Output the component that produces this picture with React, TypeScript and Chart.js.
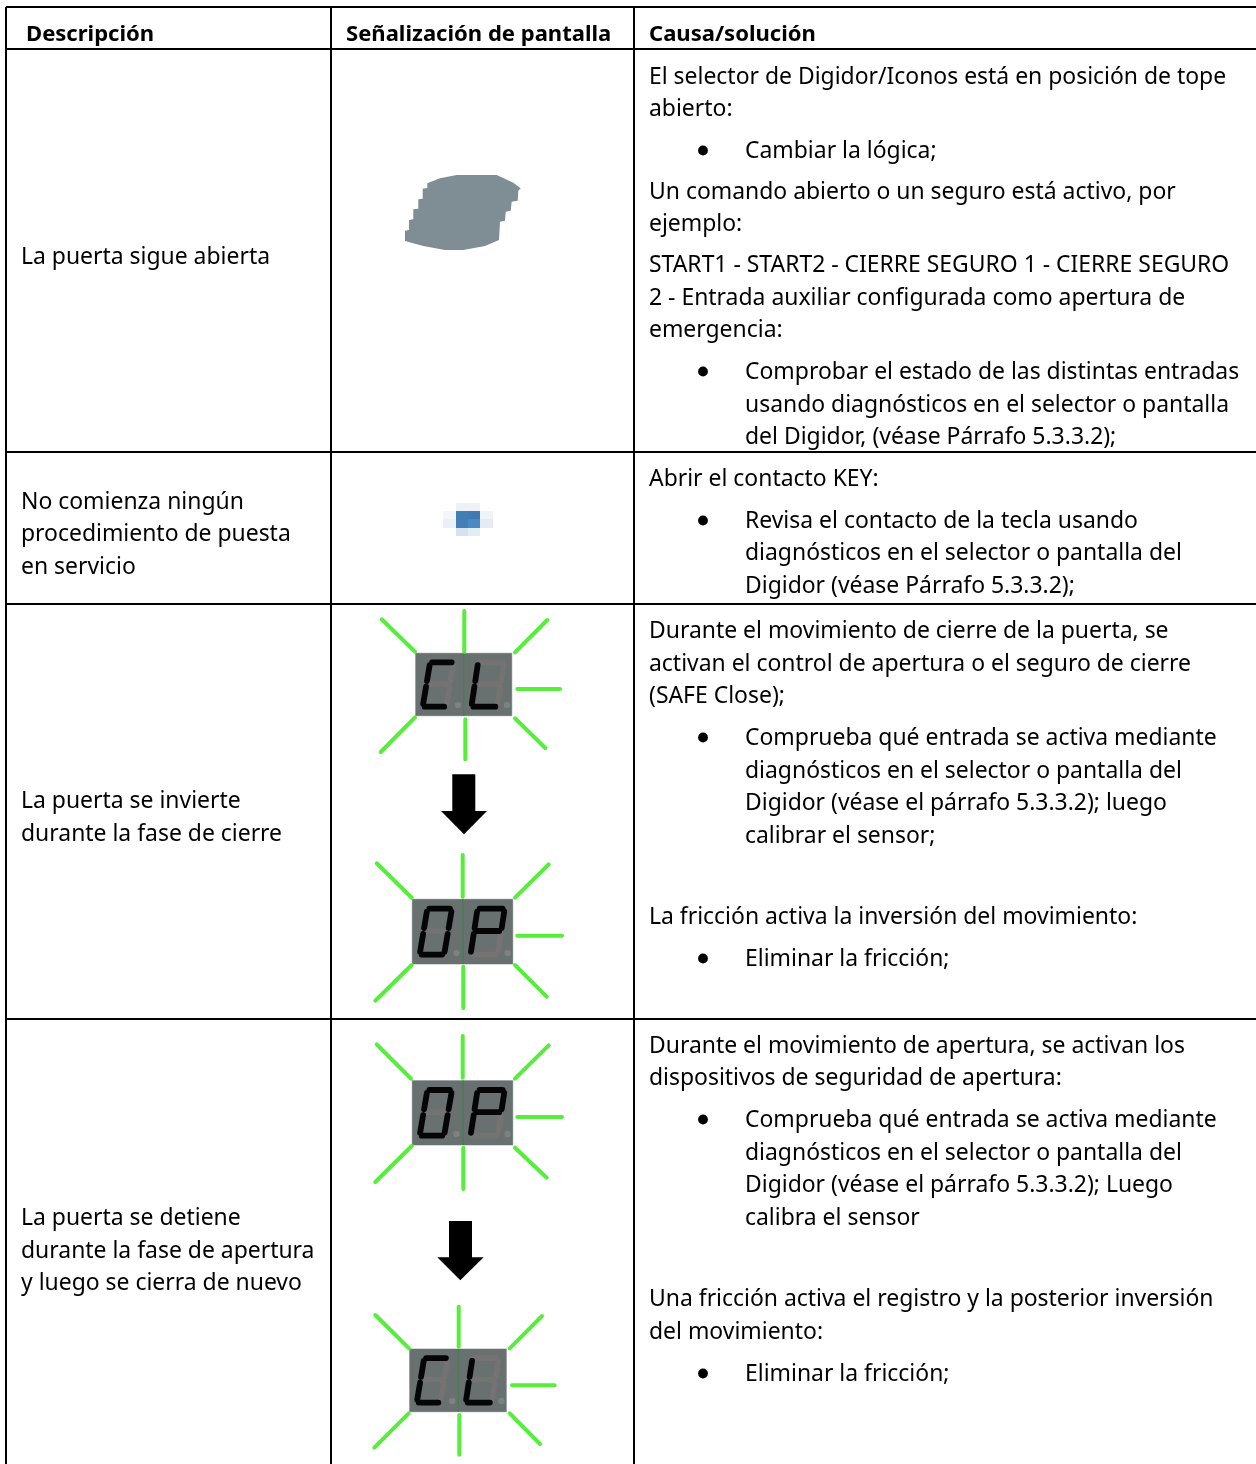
import React, { useEffect, useRef } from "react";
import { Chart, registerables } from "chart.js";

Chart.register(...registerables);

const W = 1256;
const H = 1464;
const FONT = '"Noto Sans"';
const FONT_SIZE = 22.93;
const HEADER_SIZE = 22.05;

type Pt = { x: number; y: number } | { x: number; y: null };

const headers: [number, number, string][] = [
  [26, 41, "Descripción"],
  [346, 41, "Señalización de pantalla"],
  [649, 41, "Causa/solución"],
];

const descriptionLines: [number, string][] = [
  [264, "La puerta sigue abierta"],
  [509, "No comienza ningún"],
  [541, "procedimiento de puesta"],
  [574, "en servicio"],
  [808, "La puerta se invierte"],
  [841, "durante la fase de cierre"],
  [1225, "La puerta se detiene"],
  [1258, "durante la fase de apertura"],
  [1290, "y luego se cierra de nuevo"],
];

const causeLines: [number, string][] = [
  [84, "El selector de Digidor/Iconos está en posición de tope"],
  [116, "abierto:"],
  [199, "Un comando abierto o un seguro está activo, por"],
  [231, "ejemplo:"],
  [272, "START1 - START2 - CIERRE SEGURO 1 - CIERRE SEGURO"],
  [305, "2 - Entrada auxiliar configurada como apertura de"],
  [337, "emergencia:"],
  [486, "Abrir el contacto KEY:"],
  [638, "Durante el movimiento de cierre de la puerta, se"],
  [671, "activan el control de apertura o el seguro de cierre"],
  [703, "(SAFE Close);"],
  [924, "La fricción activa la inversión del movimiento:"],
  [1053, "Durante el movimiento de apertura, se activan los"],
  [1085, "dispositivos de seguridad de apertura:"],
  [1306, "Una fricción activa el registro y la posterior inversión"],
  [1339, "del movimiento:"],
];

const bulletLines: [number, string][] = [
  [158, "Cambiar la lógica;"],
  [379, "Comprobar el estado de las distintas entradas"],
  [412, "usando diagnósticos en el selector o pantalla"],
  [444, "del Digidor, (véase Párrafo 5.3.3.2);"],
  [528, "Revisa el contacto de la tecla usando"],
  [560, "diagnósticos en el selector o pantalla del"],
  [593, "Digidor (véase Párrafo 5.3.3.2);"],
  [745, "Comprueba qué entrada se activa mediante"],
  [778, "diagnósticos en el selector o pantalla del"],
  [810, "Digidor (véase el párrafo 5.3.3.2); luego"],
  [843, "calibrar el sensor;"],
  [966, "Eliminar la fricción;"],
  [1127, "Comprueba qué entrada se activa mediante"],
  [1160, "diagnósticos en el selector o pantalla del"],
  [1192, "Digidor (véase el párrafo 5.3.3.2); Luego"],
  [1225, "calibra el sensor"],
  [1381, "Eliminar la fricción;"],
];

const bulletCenters = [150.5, 371.5, 520.5, 737.5, 958.5, 1119.5, 1373.5];

const tableLines: number[][] = [
  [6, 7, 1256, 7],
  [6, 49, 1256, 49],
  [6, 452, 1256, 452],
  [6, 604, 1256, 604],
  [6, 1019, 1256, 1019],
  [6, 7, 6, 1464],
  [331, 7, 331, 1464],
  [634, 7, 634, 1464],
];

const blob: number[][] = [
  [456.7, 175], [496.7, 175], [513.3, 182.7], [520.7, 188.3], [518.3, 190.7], [517.7, 200.7],
  [511.7, 201.7], [510.7, 210.7], [505.7, 211.7], [505, 220.7], [500, 221.7], [499, 240],
  [485, 246], [463.3, 250], [445, 250], [423.3, 246], [405, 241], [405, 230.7], [409, 230],
  [409, 220], [413.3, 219.3], [413.3, 209.3], [418.3, 208.7], [418.3, 199.3], [422.7, 198.7],
  [422.7, 188.7], [427.3, 188], [427.3, 183.3], [440, 178.3],
];

// x0, y0, x1, y1, colour
const mosaic: [number, number, number, number, string][] = [
  [456, 503, 468, 511, "#eef1f6"],
  [468, 503, 480, 511, "#eef1f6"],
  [443, 511, 456, 519, "#f3f5f9"],
  [456, 511, 468, 519, "#3f7fb5"],
  [468, 511, 480, 519, "#3f7ab0"],
  [480, 511, 493, 519, "#f0f3f8"],
  [443, 519, 456, 528, "#e9f0f7"],
  [456, 519, 468, 528, "#437fb6"],
  [468, 519, 480, 528, "#4a8ac2"],
  [480, 519, 493, 528, "#e4ebf4"],
  [456, 528, 468, 536, "#d6e3ee"],
  [468, 528, 480, 536, "#e2edf4"],
];

type Display = {
  box: number[];
  div: number;
  text: string;
  rays: number[][];
};

const displays: Display[] = [
  {
    box: [415.7, 653.3, 511.7, 715.7],
    div: 463.7,
    text: "CL",
    rays: [
      [464.3, 611, 464.3, 651.7], [381.7, 619.3, 415, 651.7], [547.3, 620, 515, 652.3],
      [517.3, 689, 560, 689], [515, 718.3, 545.3, 748], [465.3, 719.3, 465.3, 759.3],
      [415, 717.3, 380.7, 752],
    ],
  },
  {
    box: [412.3, 899.3, 512.7, 964],
    div: 463,
    text: "OP",
    rays: [
      [462.7, 855, 462.7, 896.7], [376.7, 863.3, 411.7, 897.7], [548.7, 864.3, 515, 897.7],
      [517.3, 935.7, 562, 935.7], [515, 965, 546.7, 996.7], [463.3, 966.7, 463.3, 1008],
      [411.7, 965, 375.3, 1000.7],
    ],
  },
  {
    box: [412.3, 1080.7, 512.7, 1145],
    div: 463,
    text: "OP",
    rays: [
      [462.7, 1036, 462.7, 1077.7], [376.7, 1044.3, 411, 1078.7], [548.7, 1045.3, 515, 1078.7],
      [517.3, 1117, 562, 1117], [515, 1147.7, 546.7, 1177.7], [463.3, 1147.7, 463.3, 1189],
      [411.7, 1146, 375.3, 1182],
    ],
  },
  {
    box: [409.7, 1349, 506.3, 1411.7],
    div: 458.3,
    text: "CL",
    rays: [
      [458.7, 1306.7, 458.7, 1346.7], [375.3, 1315, 409, 1348.3], [542, 1316, 509.7, 1348.3],
      [512, 1385.3, 554.7, 1385.3], [509.7, 1413.3, 540, 1444], [459.3, 1415, 459.3, 1454.7],
      [408.7, 1413.3, 374.3, 1447.7],
    ],
  },
];

// stem left, stem right, stem top, neck, head left, head right, tip x, tip y
const arrows: number[][] = [
  [452.3, 475.3, 774.3, 811, 441, 487, 464, 834.3],
  [449, 472, 1221, 1257.3, 437.3, 483.7, 460.3, 1280.3],
];

const litSegments: Record<string, string> = { C: "afed", L: "fed", O: "abcdef", P: "abfge" };
const allSegments = "abcdefg";

const digitFrames = [
  { topL: 0.15, topR: 0.395, botL: 0.073, botR: 0.317 },
  { topL: 0.65, topR: 0.92, botL: 0.58, botR: 0.85 },
];
const ROW_TOP = 0.145;
const ROW_MID = 0.49;
const ROW_BOT = 0.855;

function segmentLine(seg: string, frame: (typeof digitFrames)[number]): number[][] {
  const at = (r: number, side: "L" | "R", inset: number) => {
    const t = (r - ROW_TOP) / (ROW_BOT - ROW_TOP);
    const l = frame.topL + (frame.botL - frame.topL) * t;
    const rr = frame.topR + (frame.botR - frame.topR) * t;
    return [side === "L" ? l + inset : rr - inset, r];
  };
  const i = 0.02;
  const g = 0.045;
  switch (seg) {
    case "a":
      return [at(ROW_TOP, "L", i), at(ROW_TOP, "R", i)];
    case "b":
      return [at(ROW_TOP + g, "R", 0), at(ROW_MID - g, "R", 0)];
    case "c":
      return [at(ROW_MID + g, "R", 0), at(ROW_BOT - g, "R", 0)];
    case "d":
      return [at(ROW_BOT, "L", i), at(ROW_BOT, "R", i)];
    case "e":
      return [at(ROW_MID + g, "L", 0), at(ROW_BOT - g, "L", 0)];
    case "f":
      return [at(ROW_TOP + g, "L", 0), at(ROW_MID - g, "L", 0)];
    default:
      return [at(ROW_MID, "L", i), at(ROW_MID, "R", i)];
  }
}

function segs(lines: number[][]): Pt[] {
  const out: Pt[] = [];
  lines.forEach((l) => {
    out.push({ x: l[0], y: l[1] }, { x: l[2], y: l[3] }, { x: l[2], y: null });
  });
  return out;
}

function poly(points: number[][], color: string) {
  return {
    data: points.map((p) => ({ x: p[0], y: p[1] })),
    showLine: true,
    fill: "shape",
    backgroundColor: color,
    borderColor: color,
    borderWidth: 0,
    pointRadius: 0,
    tension: 0,
  };
}

function stroke(lines: number[][], color: string, width: number, cap: CanvasLineCap = "round") {
  return {
    data: segs(lines),
    showLine: true,
    fill: false,
    borderColor: color,
    borderWidth: width,
    borderCapStyle: cap,
    pointRadius: 0,
    spanGaps: false,
    tension: 0,
  };
}

function buildDatasets() {
  const list: any[] = [];
  list.push(poly(blob, "#7f8e95"));
  mosaic.forEach(([a, b, c, d, col]) =>
    list.push(poly([[a, b], [c, b], [c, d], [a, d]], col))
  );
  displays.forEach((dsp) => {
    const [l, t, r, b] = dsp.box;
    list.push(poly([[l - 0.6, t - 0.6], [r + 0.6, t - 0.6], [r + 0.6, b + 0.6], [l - 0.6, b + 0.6]], "#aeb6b2"));
    list.push(poly([[l, t], [r, t], [r, b], [l, b]], "#687170"));
    list.push(stroke([[dsp.div, t, dsp.div, b]], "#4f7a55", 1, "butt"));
    list.push(stroke(dsp.rays, "#55ee3a", 4));
    const pw = r - l;
    const ph = b - t;
    const toPx = (p: number[]) => [l + p[0] * pw, t + p[1] * ph];
    const dim: number[][] = [];
    const lit: number[][] = [];
    digitFrames.forEach((frame, k) => {
      const on = litSegments[dsp.text[k]];
      allSegments.split("").forEach((s) => {
        const [p, q] = segmentLine(s, frame).map(toPx);
        (on.includes(s) ? lit : dim).push([p[0], p[1], q[0], q[1]]);
      });
    });
    list.push(stroke(dim, "#757272", 5.6));
    list.push(stroke(lit, "#050505", 5.8));
    list.push({
      data: [
        { x: l + 0.44 * pw, y: t + 0.83 * ph },
        { x: l + 0.95 * pw, y: t + 0.83 * ph },
      ],
      showLine: false,
      pointRadius: 3.2,
      pointBackgroundColor: "#7d8280",
      pointBorderWidth: 0,
    });
  });
  arrows.forEach(([sl, sr, st, nk, hl, hr, tx, ty]) =>
    list.push(poly([[sl, st], [sr, st], [sr, nk], [hr, nk], [tx, ty], [hl, nk], [sl, nk]], "#000000"))
  );
  list.push({
    data: bulletCenters.map((y) => ({ x: 703, y })),
    showLine: false,
    pointRadius: 4.9,
    pointBackgroundColor: "#000000",
    pointBorderWidth: 0,
  });
  list.push(stroke(tableLines, "#000000", 2, "butt"));
  return list.map((d, i, a) => ({ ...d, order: a.length - i }));
}

const textPlugin = {
  id: "tableText",
  afterDatasetsDraw(chart: any) {
    const { ctx, scales } = chart;
    const px = (x: number) => scales.x.getPixelForValue(x);
    const py = (y: number) => scales.y.getPixelForValue(y);
    ctx.save();
    ctx.fillStyle = "#000000";
    ctx.textBaseline = "alphabetic";
    ctx.textAlign = "left";
    ctx.font = `bold ${HEADER_SIZE}px ${FONT}`;
    headers.forEach(([x, y, t]) => ctx.fillText(t, px(x), py(y)));
    ctx.font = `${FONT_SIZE}px ${FONT}`;
    descriptionLines.forEach(([y, t]) => ctx.fillText(t, px(21), py(y)));
    causeLines.forEach(([y, t]) => ctx.fillText(t, px(649), py(y)));
    bulletLines.forEach(([y, t]) => ctx.fillText(t, px(745), py(y)));
    ctx.restore();
  },
};

export default function App() {
  const ref = useRef<HTMLCanvasElement>(null);
  useEffect(() => {
    document.body.style.margin = "0";
    document.body.style.background = "#ffffff";
    const chart = new Chart(ref.current as HTMLCanvasElement, {
      type: "scatter",
      data: { datasets: buildDatasets() },
      options: {
        animation: false,
        responsive: false,
        devicePixelRatio: 1,
        layout: { padding: 0, autoPadding: false },
        plugins: { legend: { display: false }, tooltip: { enabled: false } },
        events: [],
        scales: {
          x: { type: "linear", min: 0, max: W, display: false },
          y: { type: "linear", min: 0, max: H, reverse: true, display: false },
        },
      },
      plugins: [textPlugin],
    } as any);
    return () => chart.destroy();
  }, []);
  return <canvas ref={ref} width={W} height={H} style={{ display: "block" }} />;
}
